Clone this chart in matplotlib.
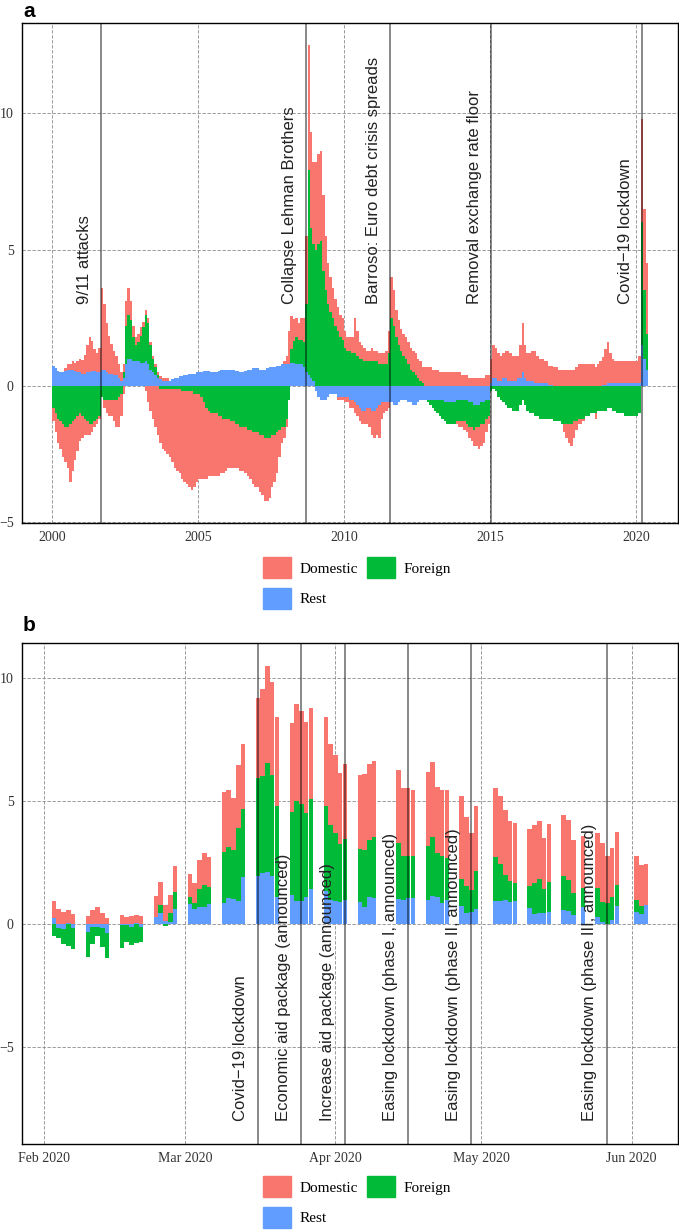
import numpy as np
import matplotlib
matplotlib.use("Agg")
import matplotlib.pyplot as plt
import matplotlib.dates as mdates
from matplotlib.patches import Patch
from datetime import date

plt.rcParams["font.family"] = ["Liberation Serif", "DejaVu Serif"]

COLORS = {"Domestic": "#F8766D", "Foreign": "#00BA38", "Rest": "#619CFF"}

# ---- panel a: monthly contributions, Jan 2000 - May 2020 ----
REST_A = [
    0.75, 0.65, 0.55, 0.5, 0.5, 0.55, 0.6, 0.6, 0.6, 0.55, 0.5, 0.5,
    0.45, 0.45, 0.5, 0.5, 0.55, 0.55, 0.5, 0.5, 0.6, 0.6, 0.5, 0.45,
    0.45, 0.4, 0.4, 0.3, 0.2, 0.3, 0.8, 1.0, 1.0, 0.9, 0.9, 0.9,
    0.85, 0.85, 0.9, 0.8, 0.6, 0.5, 0.4, 0.3, 0.25, 0.2, 0.2, 0.2,
    0.2, 0.25, 0.3, 0.3, 0.35, 0.35, 0.4, 0.4, 0.45, 0.45, 0.45, 0.5,
    0.5, 0.5, 0.55, 0.55, 0.55, 0.5, 0.5, 0.5, 0.55, 0.6, 0.6, 0.6,
    0.6, 0.6, 0.6, 0.55, 0.55, 0.5, 0.5, 0.55, 0.6, 0.6, 0.65, 0.65,
    0.65, 0.6, 0.6, 0.6, 0.65, 0.7, 0.7, 0.7, 0.75, 0.75, 0.8, 0.8,
    0.8, 0.8, 0.85, 0.85, 0.8, 0.8, 0.8, 0.7, 0.5, 0.4, 0.3, 0.2,
    -0.2, -0.4, -0.5, -0.5, -0.5, -0.4, -0.3, -0.3, -0.3, -0.4, -0.4, -0.4,
    -0.4, -0.4, -0.5, -0.5, -0.6, -0.7, -0.8, -0.9, -0.9, -0.8, -0.8, -0.9,
    -0.9, -0.8, -0.7, -0.6, -0.6, -0.6, -0.6, -0.6, -0.7, -0.7, -0.6, -0.5,
    -0.5, -0.5, -0.6, -0.6, -0.7, -0.7, -0.6, -0.5, -0.5, -0.5, -0.5, -0.5,
    -0.5, -0.5, -0.5, -0.5, -0.5, -0.6, -0.6, -0.6, -0.6, -0.6, -0.5, -0.5,
    -0.5, -0.5, -0.5, -0.6, -0.6, -0.7, -0.7, -0.7, -0.6, -0.6, -0.5, -0.5,
    0.1, 0.3, 0.3, 0.2, 0.2, 0.3, 0.3, 0.2, 0.2, 0.2, 0.2, 0.3,
    0.3, 0.5, 0.3, 0.2, 0.2, 0.2, 0.1, 0.1, 0.1, 0.1, 0.1, 0.1,
    0.05, 0.05, 0.0, 0.0, 0.0, 0.0, 0.0, 0.0, 0.0, 0.0, 0.0, 0.0,
    0.0, 0.0, 0.0, 0.0, 0.0, 0.0, 0.0, 0.0, 0.0, 0.0, 0.05, 0.05,
    0.1, 0.1, 0.1, 0.1, 0.1, 0.1, 0.1, 0.1, 0.1, 0.1, 0.1, 0.1,
    0.1, 0.1, 1.5, 1.0, 0.6,
]
FOREIGN_A = [
    -0.8, -1.0, -1.2, -1.3, -1.4, -1.5, -1.5, -1.4, -1.3, -1.2, -1.1, -1.0,
    -1.1, -1.2, -1.3, -1.4, -1.4, -1.3, -1.2, -1.1, -0.4, -0.5, -0.5, -0.5,
    -0.5, -0.5, -0.5, -0.4, -0.3, 0.2, 1.4, 1.6, 1.4, 0.9, 0.6, 0.7,
    1.0, 1.3, 1.7, 1.5, 0.9, 0.5, 0.3, 0.1, -0.1, -0.1, -0.1, -0.1,
    -0.1, -0.1, -0.1, -0.1, -0.1, -0.2, -0.2, -0.2, -0.2, -0.2, -0.3, -0.3,
    -0.3, -0.4, -0.6, -0.8, -0.9, -1.0, -1.0, -1.0, -1.1, -1.1, -1.2, -1.2,
    -1.2, -1.3, -1.3, -1.4, -1.4, -1.5, -1.5, -1.5, -1.6, -1.6, -1.7, -1.7,
    -1.7, -1.8, -1.8, -1.9, -1.9, -1.9, -1.8, -1.8, -1.7, -1.6, -1.5, -1.5,
    -1.2, -0.5, 0.5, 0.8, 1.0, 0.9, 0.9, 0.9, 2.5, 7.5, 5.5, 5.0,
    5.0, 5.2, 5.3, 4.2, 3.5, 3.0, 2.7, 2.5, 2.2, 2.0, 1.8, 1.7,
    1.4, 1.3, 1.3, 1.2, 1.2, 1.1, 1.0, 1.0, 0.9, 0.9, 0.9, 0.9,
    0.9, 0.9, 0.8, 0.8, 0.8, 0.8, 1.2, 2.5, 2.2, 1.8, 1.5, 1.3,
    1.1, 1.0, 0.8, 0.6, 0.5, 0.4, 0.3, 0.2, 0.1, 0.0, -0.1, -0.2,
    -0.3, -0.4, -0.5, -0.6, -0.7, -0.7, -0.8, -0.8, -0.8, -0.8, -0.8, -0.8,
    -0.8, -0.8, -0.9, -0.9, -0.9, -0.9, -0.8, -0.8, -0.8, -0.8, -0.7, -0.6,
    -0.2, -0.1, -0.2, -0.4, -0.5, -0.6, -0.7, -0.8, -0.8, -0.9, -0.9, -0.9,
    -0.7, -0.5, -0.7, -0.9, -1.0, -1.0, -1.1, -1.1, -1.2, -1.2, -1.2, -1.2,
    -1.2, -1.2, -1.3, -1.3, -1.3, -1.4, -1.4, -1.4, -1.4, -1.4, -1.3, -1.3,
    -1.2, -1.2, -1.2, -1.1, -1.1, -1.0, -1.0, -1.0, -0.9, -0.9, -0.9, -0.9,
    -0.8, -0.8, -0.9, -0.9, -1.0, -1.0, -1.0, -1.1, -1.1, -1.1, -1.1, -1.1,
    -1.1, -1.0, 4.5, 2.5, 1.3,
]
DOMESTIC_UP_A = [
    0, 0, 0, 0, 0, 0.1, 0.2, 0.2, 0.3, 0.3, 0.4, 0.5,
    0.5, 0.7, 1.0, 1.3, 1.1, 0.8, 0.7, 0.9, 3.0, 2.4, 1.8, 1.4,
    1.1, 0.9, 0.7, 0.5, 0.3, 0.3, 0.9, 1.0, 0.7, 0.4, 0.3, 0.3,
    0.3, 0.2, 0.2, 0.2, 0.1, 0.1, 0.1, 0.1, 0.1, 0.1, 0.1, 0.1,
    0, 0, 0, 0, 0, 0, 0, 0, 0, 0, 0, 0,
    0, 0, 0, 0, 0, 0, 0, 0, 0, 0, 0, 0,
    0, 0, 0, 0, 0, 0, 0, 0, 0, 0, 0, 0,
    0, 0, 0, 0, 0, 0, 0, 0, 0, 0, 0, 0.1,
    0.3, 1.2, 1.2, 0.8, 0.7, 0.6, 0.8, 0.9, 2.5, 4.6, 3.5, 3.0,
    3.2, 3.3, 3.3, 2.8, 2.0, 1.5, 1.3, 1.1, 1.0, 0.9, 0.8, 0.8,
    0.6, 0.5, 0.5, 0.6, 1.3, 0.9, 0.6, 0.5, 0.5, 0.4, 0.4, 0.5,
    0.4, 0.4, 0.4, 0.4, 0.4, 0.5, 0.8, 1.5, 1.3, 1.0, 0.9, 0.8,
    0.8, 0.8, 0.8, 0.8, 0.8, 0.8, 0.7, 0.7, 0.6, 0.7, 0.7, 0.7,
    0.6, 0.6, 0.6, 0.5, 0.5, 0.5, 0.5, 0.5, 0.5, 0.5, 0.5, 0.5,
    0.4, 0.4, 0.4, 0.3, 0.3, 0.3, 0.3, 0.3, 0.3, 0.3, 0.4, 0.4,
    0.9, 1.2, 1.1, 1.0, 0.9, 0.9, 1.0, 1.1, 1.0, 0.9, 0.9, 0.8,
    1.2, 1.8, 1.2, 1.0, 1.0, 1.1, 1.2, 1.0, 0.9, 0.9, 0.8, 0.8,
    0.7, 0.7, 0.7, 0.7, 0.6, 0.6, 0.6, 0.6, 0.6, 0.6, 0.6, 0.7,
    0.8, 0.8, 0.8, 0.8, 0.8, 0.8, 0.8, 0.7, 0.8, 0.9, 1.0, 1.3,
    1.5, 1.1, 0.9, 0.8, 0.8, 0.8, 0.8, 0.8, 0.8, 0.8, 0.8, 0.8,
    0.8, 1.0, 3.8, 3.0, 2.6,
]
DOMESTIC_DOWN_A = [
    -0.5, -0.7, -0.9, -1.0, -1.2, -1.3, -1.5, -2.1, -1.8, -1.5, -1.3, -1.0,
    -0.8, -0.6, -0.5, -0.4, -0.3, -0.2, -0.2, -0.1, 0, -0.3, -0.5, -0.6,
    -0.6, -0.8, -1.0, -1.1, -0.8, -0.3, 0, 0, 0, 0, 0, 0,
    0, 0, -0.2, -0.6, -0.9, -1.2, -1.5, -1.8, -2.0, -2.2, -2.3, -2.4,
    -2.5, -2.7, -2.9, -3.0, -3.1, -3.2, -3.3, -3.4, -3.5, -3.6, -3.4, -3.2,
    -3.1, -3.0, -2.8, -2.6, -2.4, -2.3, -2.3, -2.3, -2.2, -2.1, -2.0, -1.9,
    -1.8, -1.7, -1.7, -1.6, -1.6, -1.6, -1.6, -1.7, -1.7, -1.8, -1.9, -2.0,
    -2.0, -2.1, -2.2, -2.3, -2.3, -2.2, -1.9, -1.7, -1.5, -1.0, -0.6, -0.4,
    -0.3, 0, 0, 0, 0, 0, 0, 0, 0, 0, 0, 0,
    0, 0, 0, 0, 0, 0, 0, 0, 0, -0.1, -0.1, -0.1,
    -0.2, -0.2, -0.3, -0.3, -0.4, -0.4, -0.5, -0.5, -0.5, -0.6, -0.7, -0.9,
    -1.0, -1.0, -1.2, -0.6, -0.4, -0.3, -0.2, 0, 0, 0, 0, 0,
    0, 0, 0, 0, 0, 0, 0, 0, 0, 0, 0, 0,
    0, 0, 0, 0, 0, 0, 0, 0, 0, 0, -0.1, -0.2,
    -0.2, -0.3, -0.3, -0.4, -0.5, -0.6, -0.7, -0.8, -0.8, -0.7, -0.5, -0.3,
    0, 0, 0, 0, 0, 0, 0, 0, 0, 0, 0, 0,
    0, 0, 0, 0, 0, 0, 0, 0, 0, 0, 0, 0,
    0, 0, 0, 0, 0, 0, -0.3, -0.5, -0.7, -0.8, -0.6, -0.3,
    -0.2, -0.2, -0.1, 0, 0, 0, 0, -0.2, 0, 0, 0, 0,
    0, 0, 0, 0, 0, 0, 0, 0, 0, 0, 0, 0,
    0, 0, 0, 0, 0,
]
EVENTS_A = [2001.69, 2008.70, 2011.59, 2015.04, 2020.205]
EVENT_LABELS_A = ["9/11 attacks", "Collapse Lehman Brothers",
                  "Barroso: Euro debt crisis spreads",
                  "Removal exchange rate floor", "Covid\u221219 lockdown"]

# ---- panel b: daily contributions, Feb - Jun 2020 ----
DAYS_B = [
    "2020-02-03", "2020-02-04", "2020-02-05", "2020-02-06", "2020-02-07",
    "2020-02-10", "2020-02-11", "2020-02-12", "2020-02-13", "2020-02-14",
    "2020-02-17", "2020-02-18", "2020-02-19", "2020-02-20", "2020-02-21",
    "2020-02-24", "2020-02-25", "2020-02-26", "2020-02-27", "2020-02-28",
    "2020-03-02", "2020-03-03", "2020-03-04", "2020-03-05", "2020-03-06",
    "2020-03-09", "2020-03-10", "2020-03-11", "2020-03-12", "2020-03-13",
    "2020-03-16", "2020-03-17", "2020-03-18", "2020-03-19", "2020-03-20",
    "2020-03-23", "2020-03-24", "2020-03-25", "2020-03-26", "2020-03-27",
    "2020-03-30", "2020-03-31", "2020-04-01", "2020-04-02", "2020-04-03",
    "2020-04-06", "2020-04-07", "2020-04-08", "2020-04-09",
    "2020-04-14", "2020-04-15", "2020-04-16", "2020-04-17",
    "2020-04-20", "2020-04-21", "2020-04-22", "2020-04-23", "2020-04-24",
    "2020-04-27", "2020-04-28", "2020-04-29", "2020-04-30",
    "2020-05-04", "2020-05-05", "2020-05-06", "2020-05-07", "2020-05-08",
    "2020-05-11", "2020-05-12", "2020-05-13", "2020-05-14", "2020-05-15",
    "2020-05-18", "2020-05-19", "2020-05-20", "2020-05-22",
    "2020-05-25", "2020-05-26", "2020-05-27", "2020-05-28", "2020-05-29",
    "2020-06-02", "2020-06-03", "2020-06-04",
]
REST_B = [
    0.23, -0.18, -0.2, 0.03, -0.15,
    -0.34, -0.11, -0.14, -0.15, -0.37,
    -0.04, -0.04, -0.11, 0.02, -0.11,
    0.3, 0.43, 0.11, 0.08, 0.6,
    0.82, 0.6, 0.68, 0.7, 0.81,
    0.84, 1.07, 1.03, 0.95, 1.92,
    1.95, 2.06, 2.11, 1.95, 1.08,
    1.18, 0.92, 0.95, 1.08, 1.41,
    1.34, 0.98, 0.95, 0.87, 0.98,
    0.87, 0.68, 1.1, 1.07,
    1.0, 0.98, 1.06, 1.04,
    0.96, 1.15, 1.11, 0.84, 0.98,
    0.73, 0.43, 0.49, 0.61,
    0.93, 0.93, 0.98, 0.89, 0.91,
    0.66, 0.41, 0.43, 0.43, 0.5,
    0.57, 0.53, 0.37, 0.7,
    0.3, 0.09, 0.0, 0.16, 0.73,
    0.5, 0.41, 0.77,
]
FOREIGN_B = [
    -0.51, -0.38, -0.63, -0.89, -0.87,
    -0.99, -0.69, -0.37, -0.77, -1.01,
    -0.92, -0.69, -0.74, -0.76, -0.61,
    0.0, 0.33, -0.08, 0.37, 0.7,
    0.29, 0.24, 0.73, 0.89, 0.68,
    2.09, 2.06, 1.99, 2.94, 2.73,
    3.97, 3.93, 4.42, 4.11, 3.72,
    3.36, 4.07, 3.9, 3.43, 3.66,
    3.43, 3.03, 2.76, 2.38, 2.45,
    2.17, 2.33, 2.29, 2.44,
    2.28, 1.76, 1.68, 1.7,
    2.22, 2.4, 1.75, 1.9, 1.69,
    1.09, 1.09, 0.89, 1.52,
    1.78, 1.51, 1.02, 0.86, 0.77,
    0.86, 1.27, 1.41, 0.98, 1.21,
    1.38, 1.26, 0.88, 0.75,
    1.15, 0.78, 0.84, 0.95, 0.86,
    0.48, 0.32, 0.0,
]
DOMESTIC_B = [
    0.72, 0.6, 0.47, 0.54, 0.41,
    0.33, 0.56, 0.68, 0.45, 0.24,
    0.35, 0.3, 0.34, 0.35, 0.34,
    0.84, 0.95, 0.65, 0.72, 1.04,
    0.92, 0.84, 1.19, 1.31, 1.21,
    2.42, 2.29, 2.08, 2.56, 2.64,
    3.25, 3.55, 3.96, 3.75, 3.59,
    3.62, 3.94, 3.81, 3.7, 3.72,
    3.64, 3.29, 3.17, 2.87, 3.05,
    2.99, 3.09, 3.1, 3.09,
    2.98, 2.76, 2.79, 2.68,
    2.97, 3.02, 2.72, 2.68, 2.75,
    3.38, 2.83, 2.31, 2.67,
    2.8, 2.74, 2.61, 2.44, 2.41,
    2.33, 2.33, 2.35, 2.07, 2.36,
    2.48, 2.42, 2.16, 2.13,
    2.24, 2.41, 1.9, 1.99, 2.14,
    1.78, 1.67, 1.65,
]
EVENTS_B = ["2020-03-16", "2020-03-25", "2020-04-03",
            "2020-04-16", "2020-04-29", "2020-05-27"]
EVENT_LABELS_B = ["Covid\u221219 lockdown", "Economic aid package (announced)",
                  "Increase aid package (announced)",
                  "Easing lockdown (phase I, announced)",
                  "Easing lockdown (phase II, announced)",
                  "Easing lockdown (phase III, announced)"]

SANS = ["Liberation Sans", "DejaVu Sans"]
GRID = dict(color="#8a8a8a", linewidth=0.6, linestyle=(0, (4, 2)))


def style_axes(ax):
    ax.set_axisbelow(True)
    ax.grid(True, **GRID)
    for sp in ax.spines.values():
        sp.set_linewidth(1.0)
        sp.set_color("black")
    ax.tick_params(length=0, labelsize=10, colors="#333333", pad=6)
    ax.set_yticks([-5, 0, 5, 10])


def add_legend(fig, y):
    handles = [Patch(color=COLORS["Domestic"], label="Domestic"),
               Patch(color=COLORS["Rest"], label="Rest"),
               Patch(color=COLORS["Foreign"], label="Foreign")]
    fig.legend(handles=handles, ncol=2, loc="center",
               bbox_to_anchor=(357 / 679, y), frameon=False,
               prop={"family": "Liberation Serif", "size": 11},
               handlelength=1.8, handleheight=1.75, handletextpad=0.55,
               columnspacing=0.65, labelspacing=0.6, borderpad=0)


fig = plt.figure(figsize=(6.79, 12.32), dpi=100)

# ---------------- panel a ----------------
ax = fig.add_axes([22 / 679, 1 - 523 / 1232, 656 / 679, 500 / 1232])
n = len(REST_A)
t = 2000 + np.arange(n + 1) / 12.0
pos = np.zeros(n)
neg = np.zeros(n)
layers = [(REST_A, "Rest"), (FOREIGN_A, "Foreign"),
          (DOMESTIC_UP_A, "Domestic"), (DOMESTIC_DOWN_A, "Domestic")]
for vals, name in layers:
    v = np.asarray(vals, dtype=float)
    up = np.clip(v, 0, None)
    dn = np.clip(v, None, 0)
    ax.fill_between(t, np.append(pos, pos[-1]), np.append(pos + up, (pos + up)[-1]),
                    step="post", color=COLORS[name], linewidth=0)
    ax.fill_between(t, np.append(neg + dn, (neg + dn)[-1]), np.append(neg, neg[-1]),
                    step="post", color=COLORS[name], linewidth=0)
    pos += up
    neg += dn

for ev, lab in zip(EVENTS_A, EVENT_LABELS_A):
    ax.axvline(ev, color="black", alpha=0.5, linewidth=1.3)
    ax.text(ev - 0.58, 3, lab, rotation=90, ha="center", va="bottom",
            family=SANS, fontsize=12, color="#222222")

ax.set_xlim(1998.97, 2021.44)
ax.set_ylim(-5.02, 13.3)
ax.set_xticks([2000, 2005, 2010, 2015, 2020])
style_axes(ax)
fig.text(23 / 679, 1 - 2 / 1232, "a", family=SANS, fontsize=15,
         fontweight="bold", va="top", ha="left")
add_legend(fig, 1 - 583 / 1232)

# ---------------- panel b ----------------
bx = fig.add_axes([22 / 679, 1 - 1143.5 / 1232, 656 / 679, 500.5 / 1232])
d = mdates.date2num(np.array(DAYS_B, dtype="datetime64[D]"))
pos = np.zeros(len(d))
neg = np.zeros(len(d))
for vals, name in [(REST_B, "Rest"), (FOREIGN_B, "Foreign"), (DOMESTIC_B, "Domestic")]:
    v = np.asarray(vals, dtype=float)
    up = np.clip(v, 0, None)
    dn = np.clip(v, None, 0)
    bx.bar(d, up, bottom=pos, width=0.9, color=COLORS[name], linewidth=0)
    bx.bar(d, dn, bottom=neg, width=0.9, color=COLORS[name], linewidth=0)
    pos += up
    neg += dn

ev_b = mdates.date2num(np.array(EVENTS_B, dtype="datetime64[D]"))
for ev, lab in zip(ev_b, EVENT_LABELS_B):
    bx.axvline(ev, color="black", alpha=0.5, linewidth=1.3)
    bx.text(ev - 3.6, -8, lab, rotation=90, ha="center", va="bottom",
            family=SANS, fontsize=12, color="#222222")

months = [date(2020, m, 1) for m in range(2, 7)]
bx.set_xticks(mdates.date2num(months))
bx.xaxis.set_major_formatter(mdates.DateFormatter("%b %Y"))
bx.set_xlim(mdates.date2num(date(2020, 1, 27)) + 0.45,
            mdates.date2num(date(2020, 6, 10)) + 0.55)
bx.set_ylim(-8.92, 11.41)
style_axes(bx)
fig.text(23 / 679, 1 - 616 / 1232, "b", family=SANS, fontsize=15,
         fontweight="bold", va="top", ha="left")
add_legend(fig, 1 - 1202 / 1232)

fig.savefig("out.png", dpi=100)
